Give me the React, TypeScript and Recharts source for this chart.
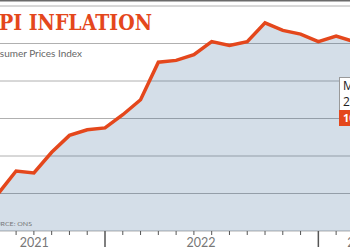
import React from "react";
import { AreaChart, Area, XAxis, YAxis, CartesianGrid } from "recharts";

const monthLabels = [
  "Jun 2021", "Jul 2021", "Aug 2021", "Sep 2021", "Oct 2021", "Nov 2021", "Dec 2021",
  "Jan 2022", "Feb 2022", "Mar 2022", "Apr 2022", "May 2022", "Jun 2022", "Jul 2022",
  "Aug 2022", "Sep 2022", "Oct 2022", "Nov 2022", "Dec 2022", "Jan 2023", "Feb 2023", "Mar 2023",
];
// month offset from January 2022
const monthIndex = [-7, -6, -5, -4, -3, -2, -1, 0, 1, 2, 3, 4, 5, 6, 7, 8, 9, 10, 11, 12, 13, 14];
const cpiValues = [2.5, 2.0, 3.2, 3.1, 4.2, 5.1, 5.4, 5.5, 6.2, 7.0, 9.0, 9.1, 9.4, 10.1, 9.9, 10.1, 11.1, 10.7, 10.5, 10.1, 10.4, 10.1];

const monthTicks = [-5, -4, -3, -2, -1, 0, 1, 2, 3, 4, 5, 6, 7, 8, 9, 10, 11, 12, 13];
const yearTicks = [0, 12];
const yearLabels = ["2021", "2022", "2023"];
const yearLabelPos = [-4.8, 4.58, 13.62];
const yTicks = [2, 4, 6, 8, 10, 12];
const xDomain = [-5.906, 13.78];

const data = monthIndex.map((m, i) => ({ m, label: monthLabels[i], cpi: cpiValues[i] }));

const ORANGE = "#e4471c";

const AxisTick = (props: any) => {
  const { x, y, payload } = props;
  const v = payload.value;
  const li = yearLabelPos.indexOf(v);
  if (li >= 0) {
    return (
      <text x={x} y={y + 16} textAnchor="start" fontFamily="Lato, 'Open Sans', sans-serif" fontSize={12.5} fill="#777">
        {yearLabels[li]}
      </text>
    );
  }
  const major = yearTicks.includes(v);
  return (
    <line
      x1={x}
      x2={x}
      y1={y}
      y2={major ? y + 16 : y + 4}
      stroke="#555"
      strokeWidth={major ? 1.5 : 1}
    />
  );
};

export default function App() {
  return (
    <div style={{ position: "fixed", left: 0, top: 0, width: 350, height: 250, background: "#fff", overflow: "hidden" }}>
      <AreaChart width={350} height={250} data={data} margin={{ top: 6, right: 0, bottom: 0, left: 0 }}>
        <CartesianGrid vertical={false} stroke="#b0b0b0" strokeWidth={1} />
        <XAxis
          dataKey="m"
          type="number"
          domain={xDomain}
          allowDataOverflow
          ticks={[...monthTicks, ...yearLabelPos]}
          interval={0}
          tick={<AxisTick />}
          tickLine={false}
          axisLine={false}
          tickSize={0}
          tickMargin={0}
          height={19}
        />
        <YAxis hide domain={[0, 12]} ticks={yTicks} type="number" />
        <Area
          type="linear"
          dataKey="cpi"
          stroke={ORANGE}
          strokeWidth={3.5}
          fill="#2a5b8c"
          fillOpacity={0.2}
          isAnimationActive={false}
          dot={false}
          activeDot={false}
        />
      </AreaChart>
      <svg width={350} height={250} style={{ position: "absolute", left: 0, top: 0, pointerEvents: "none" }}>
        <line x1={0} x2={350} y1={0.75} y2={0.75} stroke="#6b6b6b" strokeWidth={1.5} />
        <text x={-16} y={30} fontFamily="'DejaVu Serif', serif" fontWeight="bold" fontSize={23} fill={ORANGE} textLength={168} lengthAdjust="spacingAndGlyphs">
          CPI INFLATION
        </text>
        <text x={-18} y={57} fontFamily="Lato, 'Open Sans', sans-serif" fontSize={10} fill="#666" textLength={100} lengthAdjust="spacingAndGlyphs">
          Consumer Prices Index
        </text>
        <text x={-14} y={226} fontFamily="Lato, 'Open Sans', sans-serif" fontSize={6.5} fill="#777" textLength={46} lengthAdjust="spacingAndGlyphs">
          SOURCE: ONS
        </text>
        <rect x={339.5} y={77.5} width={30} height={33} fill="#fff" stroke="#999" strokeWidth={1} />
        <text x={343} y={90} fontFamily="'Open Sans', sans-serif" fontSize={12} fill="#222">Mar</text>
        <text x={343} y={106} fontFamily="'Open Sans', sans-serif" fontSize={12} fill="#222">2023</text>
        <rect x={339} y={110} width={30} height={16} fill={ORANGE} />
        <text x={343} y={122} fontFamily="'Open Sans', sans-serif" fontWeight="bold" fontSize={11} fill="#fff">10.1%</text>
      </svg>
    </div>
  );
}
